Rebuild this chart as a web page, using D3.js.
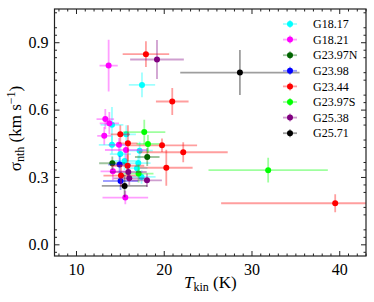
<!DOCTYPE html>
<html>
<head>
<meta charset="utf-8">
<script src="https://cdn.jsdelivr.net/npm/d3@7"></script>
<style>
  body { margin: 0; background: #fff; }
  svg text { font-family: "Liberation Serif", "DejaVu Serif", serif; fill: #000; }
</style>
</head>
<body>
<div id="chart"></div>
<script>
// each point: [Tkin, sigma_nth, Tkin error, sigma error]
const g1817 = [
  [17.52, 0.710, 1.50, 0.055], [14.10, 0.532, 1.30, 0.080], [14.10, 0.443, 1.50, 0.040],
  [15.73, 0.490, 1.10, 0.040], [15.05, 0.402, 1.20, 0.040], [15.54, 0.371, 1.30, 0.040],
  [17.25, 0.417, 1.50, 0.040], [17.10, 0.362, 1.40, 0.035], [16.95, 0.339, 1.20, 0.030],
  [17.47, 0.300, 1.60, 0.030]
];
const g1821 = [
  [13.72, 0.796, 1.04, 0.115], [13.34, 0.558, 1.00, 0.045], [13.80, 0.539, 1.10, 0.050],
  [13.22, 0.483, 0.80, 0.040], [14.90, 0.443, 1.20, 0.030], [15.70, 0.420, 2.40, 0.040],
  [14.20, 0.325, 1.40, 0.040], [15.62, 0.208, 2.60, 0.030]
];
const g2397n = [[14.14, 0.361, 1.50, 0.030], [18.12, 0.389, 1.40, 0.040]];
const g2398 = [[14.97, 0.355, 1.30, 0.040], [15.08, 0.282, 2.00, 0.040]];
const g2344 = [
  [17.97, 0.847, 2.65, 0.057], [20.97, 0.636, 1.86, 0.060], [15.05, 0.490, 1.10, 0.040],
  [15.92, 0.450, 1.10, 0.080], [19.80, 0.441, 4.00, 0.030], [22.22, 0.410, 5.07, 0.045],
  [15.88, 0.350, 1.90, 0.050], [20.29, 0.341, 3.00, 0.080], [15.13, 0.306, 2.00, 0.050],
  [39.54, 0.183, 13.0, 0.040]
];
const g2397s = [
  [17.78, 0.500, 2.40, 0.055], [18.20, 0.447, 1.30, 0.040], [17.13, 0.315, 1.70, 0.040],
  [31.90, 0.330, 6.80, 0.055]
];
const g2538 = [
  [19.23, 0.823, 3.06, 0.087], [15.96, 0.322, 2.10, 0.030], [16.07, 0.294, 1.80, 0.030],
  [18.09, 0.285, 1.70, 0.030]
];
const g2571 = [[28.68, 0.765, 6.80, 0.100], [15.54, 0.260, 2.60, 0.050]];

const seriesNames = ["G18.17", "G18.21", "G23.97N", "G23.98", "G23.44", "G23.97S", "G25.38", "G25.71"];
const seriesColors = ["cyan", "magenta", "darkgreen", "blue", "red", "lime", "purple", "black"];
const seriesData = [g1817, g1821, g2397n, g2398, g2344, g2397s, g2538, g2571];

const xMajor = [10, 20, 30, 40];
const yMajor = [0.0, 0.3, 0.6, 0.9];

const W = 374, H = 302;
const m = { left: 54.5, right: 366, top: 9, bottom: 256 };
const barOpacity = 0.38;

const svg = d3.select("#chart")
  .append("svg")
  .attr("width", W)
  .attr("height", H);

const x = d3.scaleLinear().domain([7.55, 43.05]).range([m.left, m.right]);
const y = d3.scaleLinear().domain([-0.052, 1.048]).range([m.bottom, m.top]);

svg.append("clipPath").attr("id", "plot-clip")
  .append("rect")
  .attr("x", m.left).attr("y", m.top)
  .attr("width", m.right - m.left).attr("height", m.bottom - m.top);

// data
const plot = svg.append("g").attr("clip-path", "url(#plot-clip)");

seriesData.forEach((pts, i) => {
  const color = seriesColors[i];
  const g = plot.append("g");
  const bars = g.selectAll("g.bar").data(pts).enter().append("g")
    .attr("stroke", color)
    .attr("stroke-opacity", barOpacity)
    .attr("stroke-width", 1.8);
  bars.append("line")
    .attr("x1", d => x(d[0] - d[2])).attr("x2", d => x(d[0] + d[2]))
    .attr("y1", d => y(d[1])).attr("y2", d => y(d[1]));
  bars.append("line")
    .attr("x1", d => x(d[0])).attr("x2", d => x(d[0]))
    .attr("y1", d => y(d[1] - d[3])).attr("y2", d => y(d[1] + d[3]));
  g.selectAll("circle").data(pts).enter().append("circle")
    .attr("cx", d => x(d[0]))
    .attr("cy", d => y(d[1]))
    .attr("r", 3)
    .attr("fill", color);
});

// axes with inward ticks on all four sides
function styleAxis(sel) {
  sel.select(".domain").remove();
  sel.selectAll(".tick line").attr("stroke", "#222").attr("stroke-width", 1);
}

const xMinor = d3.range(8, 44, 1).filter(v => !xMajor.includes(v));
const yMinor = d3.range(-1, 32).filter(k => k % 3 !== 0).map(k => k * 0.1 / 3);

const xb = svg.append("g").attr("transform", `translate(0,${m.bottom})`)
  .call(d3.axisBottom(x).tickValues(xMajor).tickSize(-5).tickPadding(8).tickFormat(d3.format("d")));
styleAxis(xb);
xb.selectAll("text").attr("font-size", 16).attr("dy", "0.71em");
styleAxis(svg.append("g").attr("transform", `translate(0,${m.bottom})`)
  .call(d3.axisBottom(x).tickValues(xMinor).tickSize(-2.5).tickFormat("")));
styleAxis(svg.append("g").attr("transform", `translate(0,${m.top})`)
  .call(d3.axisTop(x).tickValues(xMajor).tickSize(-5).tickFormat("")));
styleAxis(svg.append("g").attr("transform", `translate(0,${m.top})`)
  .call(d3.axisTop(x).tickValues(xMinor).tickSize(-2.5).tickFormat("")));

const yl = svg.append("g").attr("transform", `translate(${m.left},0)`)
  .call(d3.axisLeft(y).tickValues(yMajor).tickSize(-5).tickPadding(6).tickFormat(d3.format(".1f")));
styleAxis(yl);
yl.selectAll("text").attr("font-size", 16);
styleAxis(svg.append("g").attr("transform", `translate(${m.left},0)`)
  .call(d3.axisLeft(y).tickValues(yMinor).tickSize(-2.5).tickFormat("")));
styleAxis(svg.append("g").attr("transform", `translate(${m.right},0)`)
  .call(d3.axisRight(y).tickValues(yMajor).tickSize(-5).tickFormat("")));
styleAxis(svg.append("g").attr("transform", `translate(${m.right},0)`)
  .call(d3.axisRight(y).tickValues(yMinor).tickSize(-2.5).tickFormat("")));

svg.append("rect")
  .attr("x", m.left).attr("y", m.top)
  .attr("width", m.right - m.left).attr("height", m.bottom - m.top)
  .attr("fill", "none").attr("stroke", "#222").attr("stroke-width", 1.2);

// axis labels
const xl = svg.append("text")
  .attr("x", (m.left + m.right) / 2).attr("y", 288)
  .attr("text-anchor", "middle").attr("font-size", 17);
xl.append("tspan").attr("font-style", "italic").text("T");
xl.append("tspan").attr("font-size", 12).attr("dy", 3).text("kin");
xl.append("tspan").attr("dy", -3).text(" (K)");

const ylab = svg.append("text")
  .attr("transform", `translate(21,${(m.top + m.bottom) / 2 - 4}) rotate(-90)`)
  .attr("text-anchor", "middle").attr("font-size", 17);
ylab.append("tspan").text("σ");
ylab.append("tspan").attr("font-size", 12).attr("dy", 3).text("nth");
ylab.append("tspan").attr("dy", -3).text(" (km s");
ylab.append("tspan").attr("font-size", 12).attr("dy", -6).text("−1");
ylab.append("tspan").attr("dy", 6).text(")");

// legend
const legend = svg.append("g");
seriesNames.forEach((name, i) => {
  const ly = 24 + i * 15.6;
  const item = legend.append("g").attr("transform", `translate(290,${ly})`);
  item.append("line").attr("x1", -7).attr("x2", 7).attr("y1", 0).attr("y2", 0)
    .attr("stroke", seriesColors[i]).attr("stroke-opacity", barOpacity).attr("stroke-width", 1.8);
  item.append("line").attr("x1", 0).attr("x2", 0).attr("y1", -4).attr("y2", 4)
    .attr("stroke", seriesColors[i]).attr("stroke-opacity", barOpacity).attr("stroke-width", 1.8);
  item.append("circle").attr("r", 3).attr("fill", seriesColors[i]);
  item.append("text").attr("x", 23).attr("dy", "0.35em").attr("font-size", 12).text(name);
});
</script>
</body>
</html>
